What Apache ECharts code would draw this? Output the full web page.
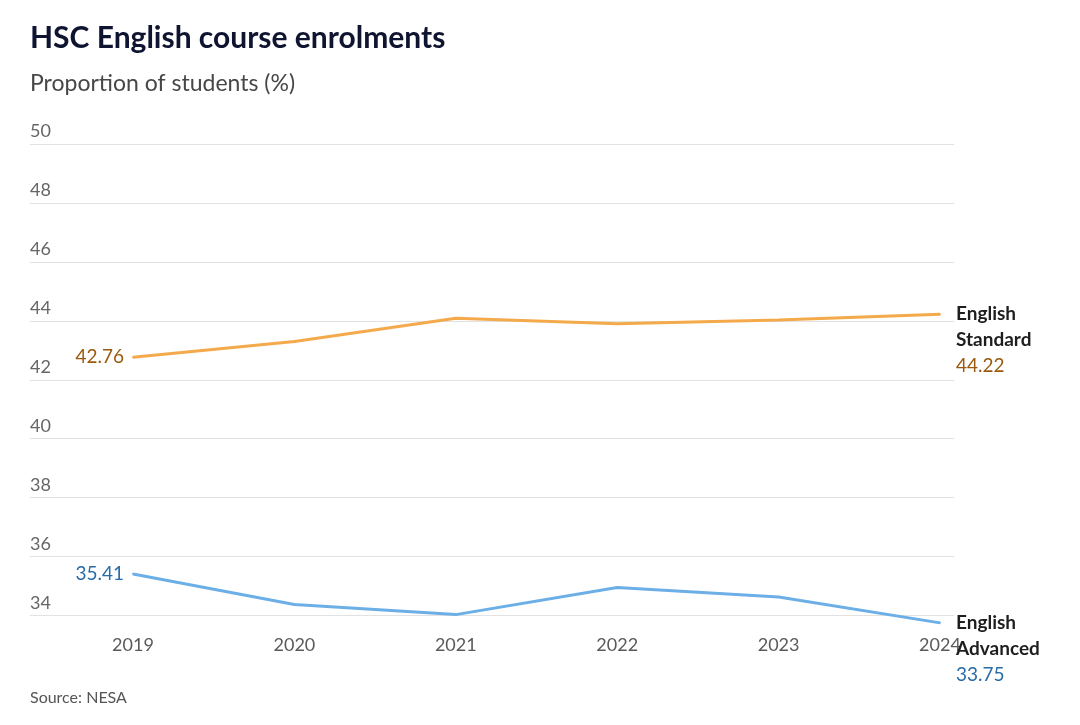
<!DOCTYPE html>
<html>
<head>
<meta charset="utf-8">
<title>HSC English course enrolments</title>
<script src="https://cdn.jsdelivr.net/npm/echarts@6/dist/echarts.min.js"></script>
<style>
    html, body { margin: 0; padding: 0; background: #fff; }
    #chart { width: 1080px; height: 725px; }
</style>
</head>
<body>
<div id="chart"></div>
<script>
// data
var years = ['2019', '2020', '2021', '2022', '2023', '2024'];
var standard = [42.76, 43.30, 44.09, 43.90, 44.03, 44.22];
var advanced = [35.41, 34.37, 34.03, 34.95, 34.63, 33.75];
var seriesNames = [['English', 'Standard'], ['English', 'Advanced']];
var yMin = 34, yMax = 50, yStep = 2;

var font = 'Lato, "Noto Sans", sans-serif';

// first point gets the value on the left, last point gets name + value on the right
function buildData(values, names, valColor) {
    return values.map(function(v, i) {
        var item = { value: v };
        if (i === 0) {
            item.label = {
                show: true,
                position: 'left',
                distance: 8,
                color: valColor,
                fontSize: 19,
                fontFamily: font,
                formatter: function(p) { return p.value.toFixed(2); }
            };
        } else if (i === values.length - 1) {
            item.label = {
                show: true,
                position: 'right',
                distance: 15,
                verticalAlign: 'top',
                offset: [0, -13],
                formatter: '{n|' + names[0] + '}\n{n|' + names[1] + '}\n{v|' + v.toFixed(2) + '}',
                rich: {
                    n: { fontFamily: font, fontSize: 19, fontWeight: 'bold', color: '#1e1e1e', lineHeight: 26 },
                    v: { fontFamily: font, fontSize: 19, color: valColor, lineHeight: 26 }
                }
            };
        }
        return item;
    });
}

var myChart = echarts.init(document.getElementById('chart'));

var option = {
    backgroundColor: '#fff',
    animation: false,
    title: [{
        text: 'HSC English course enrolments',
        left: 25, top: 18,
        textStyle: { fontFamily: font, fontSize: 30, fontWeight: 'bold', color: '#0f1530' }
    }, {
        text: 'Proportion of students (%)',
        left: 25, top: 67,
        textStyle: { fontFamily: font, fontSize: 23, fontWeight: 'normal', color: '#474747' }
    }, {
        text: 'Source: NESA',
        left: 25, top: 685,
        textStyle: { fontFamily: font, fontSize: 16, fontWeight: 'normal', color: '#555' }
    }],
    grid: [
        // gridlines run wider than the data
        { left: 30, right: 126, top: 144, bottom: 109.5 },
        { left: 133, right: 140, top: 144, bottom: 109.5 }
    ],
    xAxis: [{
        gridIndex: 0,
        type: 'category',
        show: false,
        data: years
    }, {
        gridIndex: 1,
        type: 'category',
        boundaryGap: false,
        data: years,
        axisLine: { show: false },
        axisTick: { show: false },
        axisLabel: { margin: 21, fontFamily: font, fontSize: 18, color: '#5a5a5a' }
    }],
    yAxis: [{
        gridIndex: 0,
        type: 'value',
        min: yMin, max: yMax, interval: yStep,
        axisLine: { show: false },
        axisTick: { show: false },
        splitLine: { lineStyle: { color: '#e2e2e2', width: 1 } },
        axisLabel: {
            inside: true,
            margin: 0,
            verticalAlign: 'bottom',
            padding: [0, 0, 3, 0],
            lineHeight: 19,
            fontFamily: font, fontSize: 18, color: '#666'
        }
    }, {
        gridIndex: 1,
        type: 'value',
        min: yMin, max: yMax, interval: yStep,
        show: false,
        splitLine: { show: false }
    }],
    series: [{
        name: 'English Standard',
        type: 'line',
        xAxisIndex: 1, yAxisIndex: 1,
        clip: false,
        data: buildData(standard, seriesNames[0], '#9a5a0e'),
        symbol: 'circle',
        symbolSize: 2,
        lineStyle: { color: '#f4a94b', width: 3 },
        itemStyle: { color: '#f4a94b' }
    }, {
        name: 'English Advanced',
        type: 'line',
        xAxisIndex: 1, yAxisIndex: 1,
        clip: false,
        data: buildData(advanced, seriesNames[1], '#2a6ca6'),
        symbol: 'circle',
        symbolSize: 2,
        lineStyle: { color: '#6caee6', width: 3 },
        itemStyle: { color: '#6caee6' }
    }]
};

myChart.setOption(option);
</script>
</body>
</html>
